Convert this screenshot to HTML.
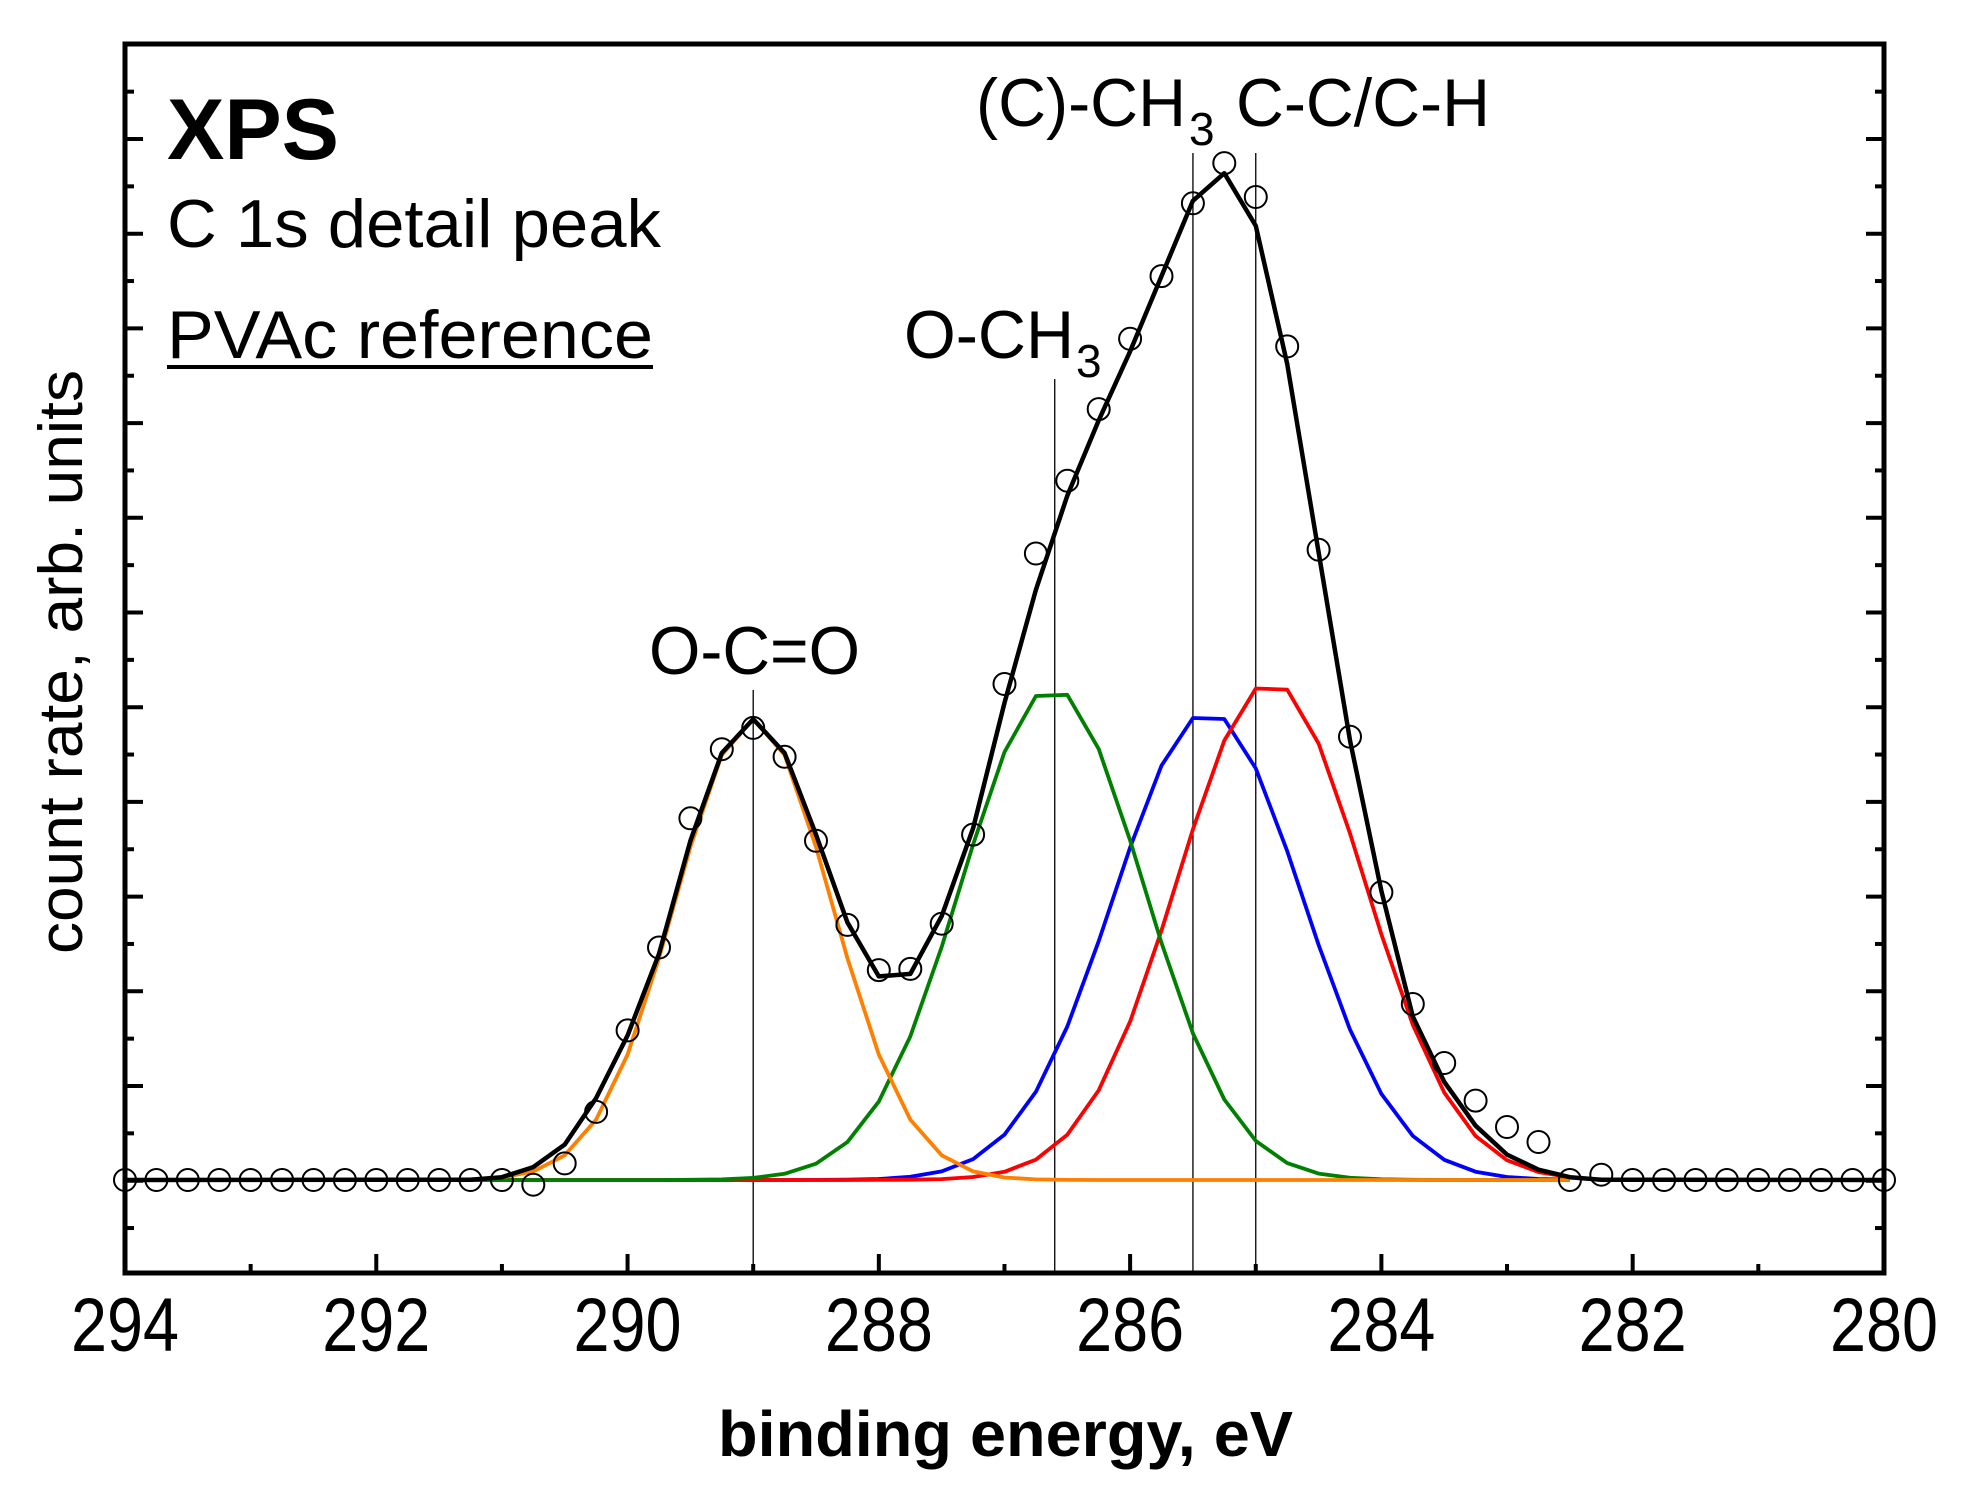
<!DOCTYPE html>
<html><head><meta charset="utf-8"><style>
html,body{margin:0;padding:0;background:#fff;}
svg{display:block;}
text{font-family:"Liberation Sans",Arial,sans-serif;fill:#000;}
</style></head><body>
<svg id="s" width="1968" height="1499" viewBox="0 0 1968 1499" xmlns="http://www.w3.org/2000/svg">
<rect width="1968" height="1499" fill="#fff"/>
<g id="g"></g>
<text x="167" y="159" font-size="86" font-weight="bold" textLength="172" lengthAdjust="spacingAndGlyphs">XPS</text>
<text x="167" y="247" font-size="68" textLength="494" lengthAdjust="spacingAndGlyphs">C 1s detail peak</text>
<text x="167" y="358" font-size="68" textLength="486" lengthAdjust="spacingAndGlyphs">PVAc reference</text>
<rect x="167" y="365" width="486" height="4" fill="#000"/>
<text x="649" y="674" font-size="68" textLength="211" lengthAdjust="spacingAndGlyphs">O-C=O</text>
<text x="904" y="358" font-size="68" textLength="170" lengthAdjust="spacingAndGlyphs">O-CH</text>
<text x="1076" y="377" font-size="46">3</text>
<text x="976" y="126" font-size="68" textLength="210" lengthAdjust="spacingAndGlyphs">(C)-CH</text>
<text x="1189" y="145" font-size="46">3</text>
<text x="1236" y="126" font-size="68" textLength="254" lengthAdjust="spacingAndGlyphs">C-C/C-H</text>
<text x="718" y="1456" font-size="64" font-weight="bold" textLength="575" lengthAdjust="spacingAndGlyphs">binding energy, eV</text>
<text transform="translate(82,662) rotate(-90)" text-anchor="middle" font-size="62" textLength="584" lengthAdjust="spacingAndGlyphs">count rate, arb. units</text>
</svg>
<script>
var g=document.getElementById('g');var NS='http://www.w3.org/2000/svg';
function X(E){return 125+(294-E)*125.64;}
var B=1180;
function el(t,a){var e=document.createElementNS(NS,t);for(var k in a)e.setAttribute(k,a[k]);g.appendChild(e);return e;}
for(var k=0;k<=12;k++){var y=139+94.7*k;if(y<1272){el('line',{x1:125,x2:143,y1:y,y2:y,stroke:'#000','stroke-width':4});el('line',{x1:1884,x2:1866,y1:y,y2:y,stroke:'#000','stroke-width':4});}
 var ym=y-47.35;if(ym>46&&ym<1272){el('line',{x1:125,x2:134,y1:ym,y2:ym,stroke:'#000','stroke-width':4});el('line',{x1:1884,x2:1875,y1:ym,y2:ym,stroke:'#000','stroke-width':4});}}
for(var E=294;E>=280;E--){var x=X(E);var maj=(E%2==0);
 if(E<294&&E>280)el('line',{x1:x,x2:x,y1:1273,y2:maj?1254:1264,stroke:'#000','stroke-width':4});
 if(maj){var t=el('text',{x:x-54,y:1351,'font-size':76,textLength:108,lengthAdjust:'spacingAndGlyphs'});t.textContent=E;}}
[[289.0,690],[286.6,379],[285.5,153],[285.0,153]].forEach(function(v){el('line',{x1:X(v[0]),x2:X(v[0]),y1:v[1],y2:1273,stroke:'#000','stroke-width':1.3});});
function comp(c,h,s,col){var p=[];for(var E=291.5;E>=282.5-0.001;E-=0.25){p.push(X(E).toFixed(1)+','+(B-h*Math.exp(-(E-c)*(E-c)/(2*s*s))).toFixed(1));}
 el('polyline',{points:p.join(' '),fill:'none',stroke:col,'stroke-width':3.8,'stroke-linejoin':'round'});}
comp(285.38,468,0.75,'#0000ff');comp(284.88,498,0.74,'#ff0000');comp(286.62,492,0.72,'#008000');comp(289.0,461,0.62,'#ff8000');
var fit={291.25:940,291.0:938,290.75:930,290.5:912,290.25:875,290:825,289.75:760,289.5:670,289.25:600,289.0:573,288.75:600,288.5:665,288.25:735,288:778,287.75:776,287.5:730,287.25:660,287:560,286.75:470,286.5:395,286.25:335,286:280,285.75:220,285.5:160,285.25:138,285.0:180,284.75:290,284.5:440,284.25:590,284:710,283.75:810,283.5:862,283.25:897,283:920,282.75:932,282.5:938,282.25:940};
var fp=['125,'+B];for(var E=291.25;E>=282.25-0.001;E-=0.25){fp.push(X(E).toFixed(1)+','+(fit[E.toFixed(2)*1]*1.255).toFixed(1));}fp.push('1884,'+B);
el('polyline',{points:fp.join(' '),fill:'none',stroke:'#000','stroke-width':4.5,'stroke-linejoin':'round'});
var d={290.75:944,290.5:927,290.25:886,290:821,289.75:755,289.5:652,289.25:597,289.0:580,288.75:603,288.5:670,288.25:737,288:773,287.75:772,287.5:736,287.25:665,287:545,286.75:441,286.5:383,286.25:326,286:270,285.75:220,285.5:162,285.25:130,285.0:157,284.75:276,284.5:438,284.25:587,284:711,283.75:800,283.5:847,283.25:877,283:898,282.75:910,282.25:936};
for(var E=294;E>=280-0.001;E-=0.25){var k=(Math.round(E*100)/100);var v=d[k]!==undefined?d[k]*1.255:B;
 el('circle',{cx:X(E).toFixed(1),cy:v.toFixed(1),r:11,fill:'none',stroke:'#000','stroke-width':2});}
el('rect',{x:125,y:44,width:1759,height:1229,fill:'none',stroke:'#000','stroke-width':5});
</script>
</body></html>
